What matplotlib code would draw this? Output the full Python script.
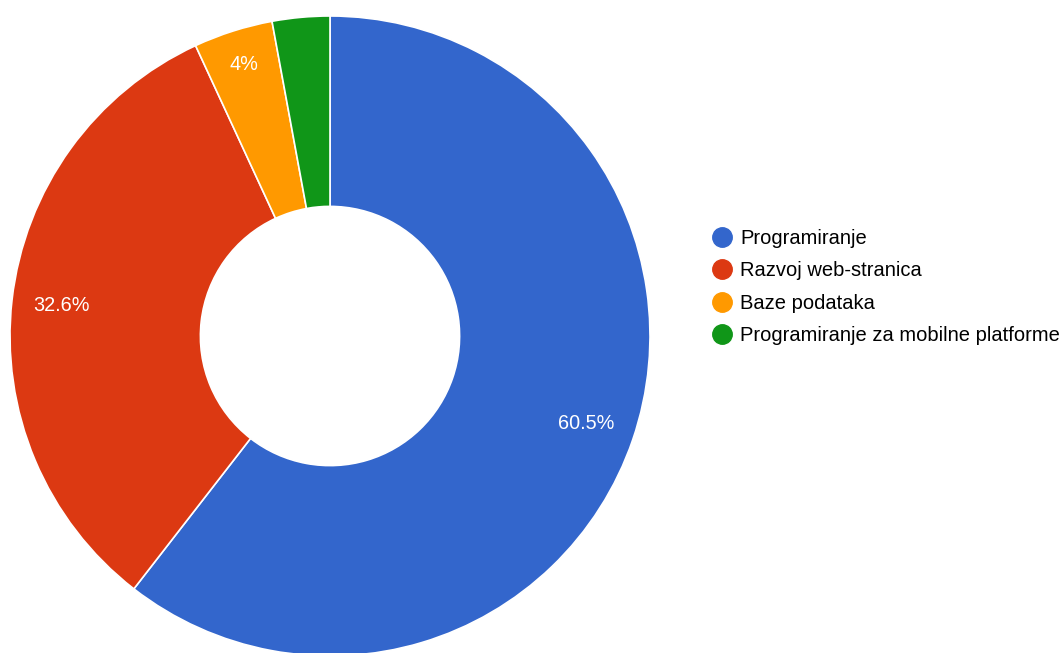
import numpy as np
import matplotlib.pyplot as plt
from matplotlib.lines import Line2D

plt.rcParams['font.family'] = ['Liberation Sans', 'DejaVu Sans']

# podaci
kategorije = ["Programiranje", "Razvoj web-stranica", "Baze podataka",
              "Programiranje za mobilne platforme"]
postoci = [60.5, 32.6, 4.0, 2.9]
oznake = ["60.5%", "32.6%", "4%", ""]
boje = ["#3366CC", "#DC3912", "#FF9900", "#109618"]

fig = plt.figure(figsize=(10.63, 6.53), dpi=100)
ax = fig.add_axes([10 / 1063, -3 / 653, 640 / 1063, 640 / 653])

wedges, _ = ax.pie(postoci, colors=boje, startangle=90, counterclock=False,
                   radius=1.0, wedgeprops=dict(width=0.595, edgecolor="white", linewidth=1.2))

# oznake postotaka
ukupno = sum(postoci)
kut = 90.0
for v, t in zip(postoci, oznake):
    sredina = kut - v / ukupno * 360 / 2
    kut -= v / ukupno * 360
    if t:
        r = 0.845 if v > 10 else 0.89
        a = np.deg2rad(sredina)
        ax.text(r * np.cos(a), r * np.sin(a), t, ha="center", va="center",
                color="white", fontsize=14.3)

ax.set_xlim(-1, 1)
ax.set_ylim(-1, 1)
ax.set_aspect("equal")
ax.axis("off")

handles = [Line2D([], [], marker="o", linestyle="", markersize=14,
                  markerfacecolor=c, markeredgecolor=c) for c in boje]
fig.legend(handles, kategorije, loc="upper left",
           bbox_to_anchor=(700 / 1063, 1 - 221 / 653), frameon=False,
           fontsize=14.5, handletextpad=0.2, labelspacing=0.66,
           borderaxespad=0, handlelength=1.4)

fig.savefig("out.png", dpi=100)
